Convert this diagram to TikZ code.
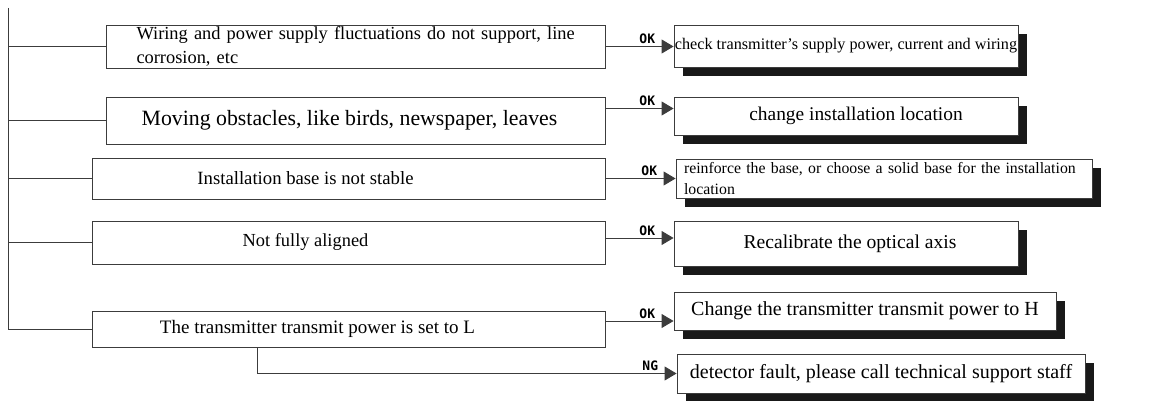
\documentclass[tikz,border=0pt]{standalone}
\usepackage{fontspec}
\setmainfont{Liberation Serif}
\newfontfamily\lblfont{DejaVu Sans Mono}
\usetikzlibrary{arrows.meta,shadows}
\definecolor{edgegray}{RGB}{60,60,60}

\tikzset{
  wire/.style={draw=edgegray, line width=0.9pt},
  flow/.style={wire, -{Triangle[length=12pt,width=14pt]}},
  lbl/.style={font=\lblfont\bfseries\fontsize{13}{13}\selectfont, inner sep=1pt},
  causebox/.style={draw=edgegray, line width=0.9pt, fill=white, inner sep=0pt,
                   font=\fontsize{19}{21}\selectfont},
  fixbox/.style={causebox,
                 drop shadow={shadow xshift=9pt, shadow yshift=-9pt, opacity=1, fill=black!90}},
}
\newcommand{\padr}{\hspace*{86pt}}

\begin{document}
\begin{tikzpicture}[x=1pt,y=-1pt,>=Latex]
\useasboundingbox (0,0) rectangle (1151,401);

% causes
\node[causebox, minimum width=499, minimum height=43, text width=444, align=left,
      font=\fontsize{18.4}{24}\selectfont] (c1) at (355.5,46.5)
      {\hspace*{3pt}Wiring and power supply fluctuations do not support, line\\\hspace*{3pt}corrosion, etc};
\node[causebox, minimum width=499, minimum height=47, font=\fontsize{21.8}{23}\selectfont] (c2) at (355.5,120.5)
      {Moving obstacles, like birds, newspaper, leaves\hspace*{12pt}};
\node[causebox, minimum width=513, minimum height=41, font=\fontsize{18.7}{21}\selectfont] (c3) at (348.5,178.5)
      {Installation base is not stable\padr};
\node[causebox, minimum width=513, minimum height=43, font=\fontsize{18.4}{21}\selectfont] (c4) at (348.5,242.5)
      {Not fully aligned\padr};
\node[causebox, minimum width=513, minimum height=36] (c5) at (348.5,329)
      {The transmitter transmit power is set to L\hspace*{62pt}};

% remedies
\node[fixbox, minimum width=344, minimum height=42, font=\fontsize{16.2}{18}\selectfont] (f1) at (846,46)
      {check transmitter’s supply power, current and wiring};
\node[fixbox, minimum width=344, minimum height=38, font=\fontsize{19.4}{21}\selectfont] (f2) at (846,116)
      {\hspace*{20pt}change installation location};
\node[fixbox, minimum width=416, minimum height=39, text width=400, align=left,
      font=\fontsize{15.8}{21}\selectfont] (f3) at (884,178.5)
      {reinforce the base, or choose a solid base for the installation\\location};
\node[fixbox, minimum width=344, minimum height=45, font=\fontsize{19.6}{21}\selectfont] (f4) at (846,243.5)
      {\hspace*{8pt}Recalibrate the optical axis};
\node[fixbox, minimum width=382, minimum height=38, font=\fontsize{20}{22}\selectfont] (f5) at (865,311)
      {Change the transmitter transmit power to H};
\node[fixbox, minimum width=408, minimum height=39, font=\fontsize{20}{22}\selectfont] (f6) at (881,373.5)
      {detector fault, please call technical support staff};

% trunk and branches
\coordinate (trunk) at (8,8);
\draw[wire] (trunk) |- (c5.west);
\foreach \i in {1,...,4}
  \draw[wire] (c\i.west) -- (c\i.west -| trunk);

% OK arrows
\foreach \i/\s in {1/0,2/12,3/0,4/4.5,5/8}
  \draw[flow] ([yshift=\s pt]c\i.east) -- ([yshift=\s pt]c\i.east -| f\i.west)
    node[lbl, pos=1, above left, xshift=-17pt, yshift=1pt] {OK};

% NG arrow
\draw[flow] ([xshift=-91.5pt]c5.south) |- (f6.west)
    node[lbl, pos=1, above left, xshift=-17pt, yshift=1pt] {NG};
\end{tikzpicture}
\end{document}
